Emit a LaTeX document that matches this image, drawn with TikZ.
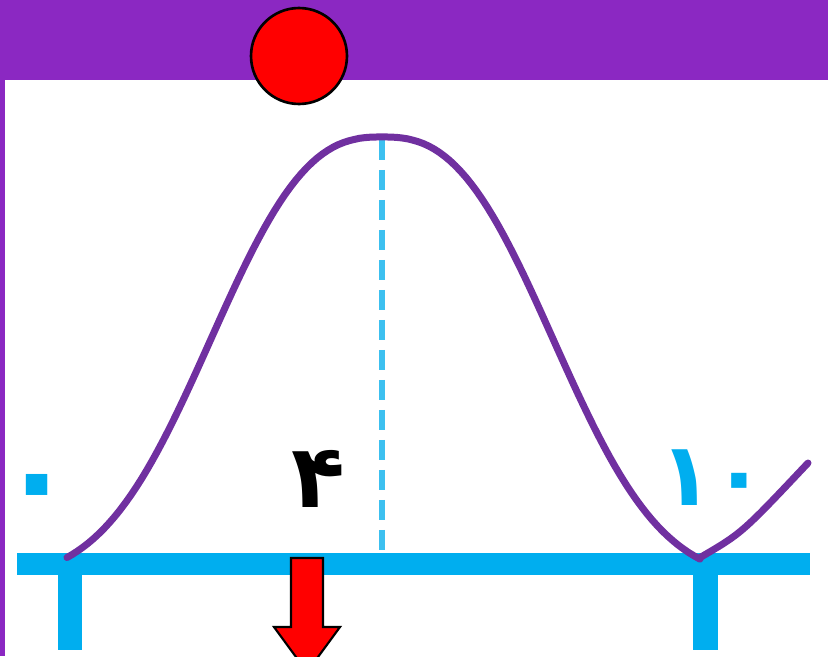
\documentclass[tikz,border=0pt]{standalone}
\usepackage{fontspec}
\newfontfamily\arabicfont[Script=Arabic]{DejaVu Sans}
\TeXXeTstate=1
\usetikzlibrary{arrows.meta, positioning}
\definecolor{band}{RGB}{139,40,194}
\definecolor{bell}{RGB}{112,48,160}
\definecolor{sky}{RGB}{0,174,239}
\definecolor{skylight}{RGB}{60,192,240}

\begin{document}
\begin{tikzpicture}[x=0.02cm, y=-0.02cm,
  axis/.style={draw=sky, line width=0.44cm},
  tickbar/.style={draw=sky, line width=0.5cm},
  meanline/.style={draw=skylight, line width=0.12cm, dash pattern=on 0.4cm off 0.2cm},
  curve/.style={draw=bell, line width=0.14cm, line cap=round},
  digit/.style={font=\arabicfont\bfseries\fontsize{50}{60}\selectfont, inner sep=0pt}]

  \useasboundingbox (0,0) rectangle (828,656);

  % Frame
  \fill[band] (0,0) rectangle (828,80);
  \fill[band] (0,80) rectangle (5,656);

  % Axis
  \coordinate (L) at (17,564);
  \coordinate (R) at (810,564);
  \coordinate (T0) at (70,564);
  \coordinate (T10) at (705,564);
  \draw[axis] (L) -- (R);
  \draw[tickbar] (T0) -- ++(0,86);
  \draw[tickbar] (T10) -- ++(0,86);

  % Mean
  \coordinate (P) at (382,140);
  \coordinate (M) at (382,555);
  \draw[meanline] (P) -- (M);

  % Curve
  \draw[curve] plot[domain=-315:318, samples=120]
    ({382+\x}, {557-420*(exp(-(abs(\x)/207)^2.6)-0.052)/0.948});
  \coordinate (V) at (701,557);
  \coordinate (E) at (808,463);
  \draw[curve] (V) .. controls (742,533) .. (E);

  % Ball and arrow
  \node (ball) [circle, fill=red, draw=black, line width=1.5pt, minimum size=1.92cm, inner sep=0pt] at (299,56) {};
  \draw[fill=red, draw=black, line width=1.2pt] (291,558) -- (323,558) -- (323,627) -- (340,627) -- (307,672) -- (274,627) -- (291,627) -- cycle;

  % Labels
  \node (zero) [digit, text=sky, scale=1.4] at (37,497) {۰};
  \node (four) [digit] at (318,479) {۴};
  \node (ten) [digit, text=sky] at (713,478) {۱۰};

\end{tikzpicture}
\end{document}
